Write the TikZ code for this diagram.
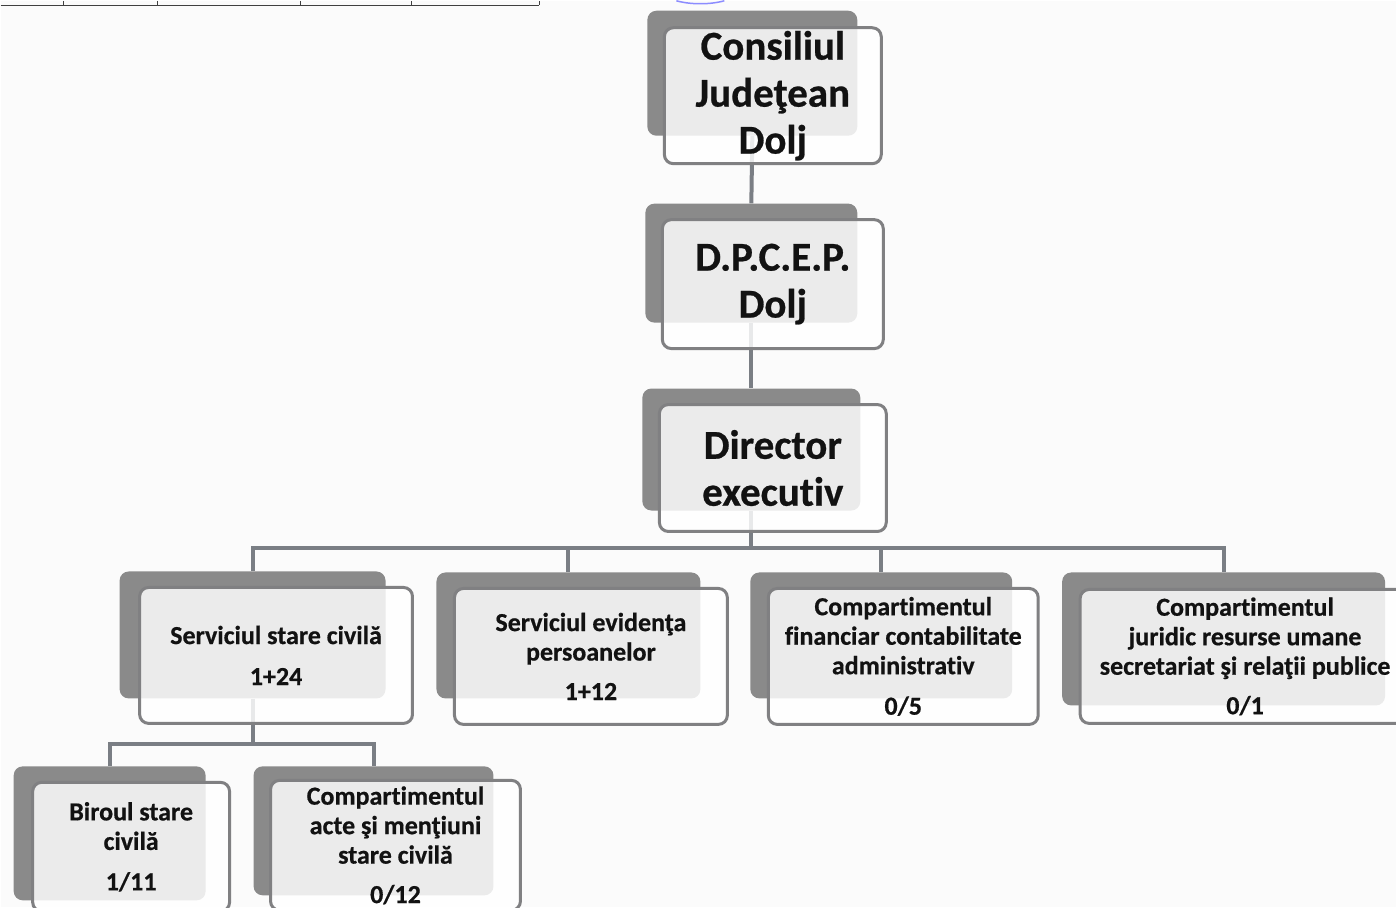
\documentclass[tikz,border=0pt]{standalone}
\usepackage{fontspec}
\setmainfont{Carlito}[Ligatures={NoCommon,NoRare}, Contextuals=NoAlternate, BoldFeatures={FakeBold=0.6}]
\definecolor{backgray}{RGB}{138,138,138}
\definecolor{framegray}{RGB}{128,128,130}
\definecolor{linkgray}{RGB}{122,126,132}
\definecolor{inkcol}{RGB}{18,18,18}
\definecolor{papercol}{RGB}{251,251,251}
\pgfdeclarelayer{paper}
\pgfdeclarelayer{bg}
\pgfsetlayers{paper,bg,main}
\begin{document}
\begin{tikzpicture}[x=1pt,y=-1pt,
  backbox/.style={fill=backgray, draw=none, rounded corners=9pt, inner sep=0pt},
  frontbox/.style={draw=framegray, line width=3pt, fill=white, fill opacity=0.83, text opacity=1,
     rounded corners=9pt, inner sep=0pt, align=center, text=inkcol},
  bigtxt/.style={font=\bfseries\fontsize{41}{47}\selectfont},
  midtxt/.style={font=\bfseries\fontsize{26}{29.5}\selectfont},
  link/.style={draw=linkgray, line width=4pt},
  tabline/.style={draw=black!75, line width=1.4pt}]
\begin{pgfonlayer}{paper}
  \fill[papercol] (0,0) rectangle (1396,907);
  \draw[tabline] (0,4.5) -- (539,4.5);
  \foreach \xx in {63,157,300,411,539} \draw[tabline] (\xx,0) -- (\xx,4.5);
  \draw[blue!45, line width=1.5pt] (676,0) .. controls (690,4) and (710,4) .. (724,0);
\end{pgfonlayer}
\useasboundingbox (0,0) rectangle (1396,907);

% back boxes
\node[backbox, minimum width=210, minimum height=125] (conb) at (752,72.5) {};
\node[backbox, minimum width=212, minimum height=119] (dpb) at (751,262.5) {};
\node[backbox, minimum width=218, minimum height=122] (dirb) at (751,449) {};
\node[backbox, minimum width=266, minimum height=127] (servb) at (252,634.5) {};
\node[backbox, minimum width=264, minimum height=126] (evidb) at (568,635) {};
\node[backbox, minimum width=262, minimum height=126] (finb) at (881,635) {};
\node[backbox, minimum width=323, minimum height=133] (jurb) at (1223.5,638.5) {};
\node[backbox, minimum width=192, minimum height=134] (birb) at (109,833) {};
\node[backbox, minimum width=240, minimum height=129] (acteb) at (373,830.5) {};

% front boxes
\node[frontbox, bigtxt, minimum width=217, minimum height=136] (con) at (772.5,95) {Consiliul\\Judeţean\\Dolj};
\node[frontbox, bigtxt, minimum width=221, minimum height=129] (dp) at (772.5,283.5) {D.P.C.E.P.\\Dolj};
\node[frontbox, bigtxt, minimum width=227, minimum height=127] (dir) at (772.5,467.5) {Director\\executiv};
\node[frontbox, midtxt, minimum width=273, minimum height=136] (serv) at (275.5,655) {Serviciul stare civilă\\[11.5pt]1+24};
\node[frontbox, midtxt, minimum width=273, minimum height=136] (evid) at (590.5,656) {Serviciul evidenţa\\persoanelor\\[10pt]1+12};
\node[frontbox, midtxt, minimum width=270, minimum height=136] (fin) at (903,656) {Compartimentul\\financiar contabilitate\\administrativ\\[11pt]0/5};
\node[frontbox, midtxt, minimum width=330, minimum height=134] (jur) at (1245,656) {Compartimentul\\juridic resurse umane\\secretariat şi relaţii publice\\[10pt]0/1};
\node[frontbox, midtxt, minimum width=197, minimum height=129] (bir) at (130.5,846.5) {Biroul stare\\civilă\\[11pt]1/11};
\node[frontbox, midtxt, minimum width=250, minimum height=130] (acte) at (395,845) {Compartimentul\\acte şi menţiuni\\stare civilă\\[10pt]0/12};

\coordinate (busA) at (0,548);
\coordinate (busB) at (0,744);
\begin{pgfonlayer}{bg}
  \draw[link] (conb.south) -- (dpb.north);
  \draw[link] (dpb.south) -- (dirb.north);
  \draw[link] (dirb.south) -- (dirb.south |- busA);
  \draw[link] (servb.north) |- (jurb.north |- busA) -- (jurb.north);
  \draw[link] (evidb.north) -- (evidb.north |- busA);
  \draw[link] (finb.north) -- (finb.north |- busA);
  \draw[link] (servb.south) -- (servb.south |- busB);
  \draw[link] (birb.north) |- (acteb.north |- busB) -- (acteb.north);
\end{pgfonlayer}
\end{tikzpicture}
\end{document}
